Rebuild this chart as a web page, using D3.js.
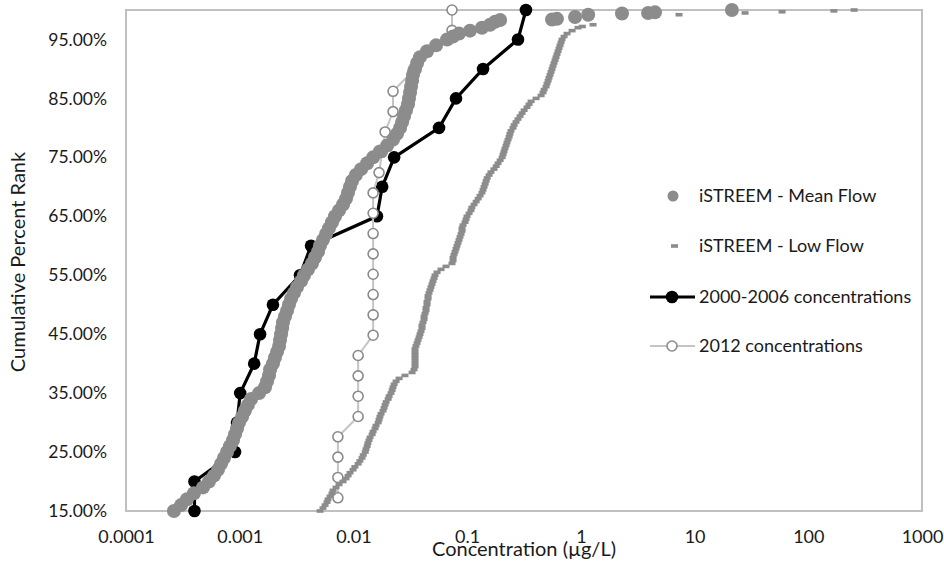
<!DOCTYPE html>
<html>
<head>
<meta charset="utf-8">
<script src="https://cdn.jsdelivr.net/npm/d3@7"></script>
<style>
body{margin:0;background:#fff;}
text{font-family:Lato,"Open Sans",sans-serif;fill:#1a1a1a;}
</style>
</head>
<body>
<div id="chart"></div>
<script>
// x axis ticks (log, ug/L) and y axis ticks (cumulative percent rank)
var xTicks = [0.0001, 0.001, 0.01, 0.1, 1, 10, 100, 1000];
var xTickLabels = ["0.0001", "0.001", "0.01", "0.1", "1", "10", "100", "1000"];
var yTicks = [15, 25, 35, 45, 55, 65, 75, 85, 95];

// iSTREEM - Mean Flow
var meanRank = [15,16,17,18,19,20,21,22,23,24,25,26,27,28,29,30,31,32,33,34,35,36,37,38,39,40,41,42,43,44,
    45,46,47,48,49,50,51,52,53,54,55,56,57,58,59,60,61,62,63,64,65,66,67,68,69,70,71,72,73,74,
    75,76,77,78,79,80,81,82,83,84,85,86,87,88,89,90,91,92,93,94,95,
    95.5,96,96.5,97,97.5,98,98.3,98.4,98.5,98.8,99.2,99.4,99.5,99.6,100];
var meanConc = [0.000264,0.000305,0.000344,0.000396,0.000476,0.000537,0.000594,0.000644,0.000685,0.000727,
    0.000773,0.000821,0.000873,0.000909,0.000947,0.000986,0.00105,0.00111,0.00118,0.00126,
    0.00148,0.00167,0.00174,0.00181,0.00185,0.00196,0.00204,0.00213,0.00222,0.00226,
    0.00231,0.00236,0.0024,0.0025,0.00261,0.00271,0.00283,0.003,0.00319,0.00346,
    0.00368,0.00399,0.00432,0.00459,0.00488,0.00508,0.0054,0.00574,0.0061,0.00648,
    0.00689,0.00747,0.0081,0.00861,0.00896,0.00933,0.00972,0.0105,0.0117,0.0132,
    0.0149,0.0171,0.0198,0.0223,0.0242,0.0257,0.0268,0.0279,0.029,0.0302,
    0.0308,0.0315,0.0321,0.0328,0.0334,0.0348,0.0363,0.0385,0.0444,0.0533,
    0.0666,
    0.0751,0.0849,0.106,0.135,0.159,0.176,0.195,0.558,0.617,0.889,1.16,2.3,3.9,4.49,21.3];

// iSTREEM - Low Flow
var lowRank = [15,15.5,16,16.5,17,17.5,18,18.5,19,19.5,20,20.5,21,21.5,22,22.5,23,23.5,24,24.5,
    25,25.5,26,26.5,27,27.5,28,28.5,29,29.5,30,30.5,31,31.5,32,32.5,33,33.5,34,34.5,
    35,35.5,36,36.5,37,37.5,38,38.5,39,39.5,40,40.5,41,41.5,42,42.5,43,43.5,44,44.5,
    45,45.5,46,46.5,47,47.5,48,48.5,49,49.5,50,50.5,51,51.5,52,52.5,53,53.5,54,54.5,
    55,55.5,56,56.5,57,57.5,58,58.5,59,59.5,60,60.5,61,61.5,62,62.5,63,63.5,64,64.5,
    65,65.5,66,66.5,67,67.5,68,68.5,69,69.5,70,70.5,71,71.5,72,72.5,73,73.5,74,74.5,
    75,75.5,76,76.5,77,77.5,78,78.5,79,79.5,80,80.5,81,81.5,82,82.5,83,83.5,84,84.5,
    85,85.5,86,86.5,87,87.5,88,88.5,89,89.5,90,90.5,91,91.5,92,92.5,93,93.5,94,94.5,
    95,95.5,96,96.5,97,97.2,97.5,99.2,99.5,99.7,99.85,100];
var lowConc = [0.00509,0.0054,0.00563,0.00586,0.00598,0.00623,0.00648,0.00662,0.00703,0.00747,
    0.0081,0.00861,0.00897,0.00934,0.00992,0.0103,0.011,0.0114,0.0119,0.0122,
    0.0127,0.0129,0.0132,0.0134,0.0137,0.014,0.0146,0.0149,0.0155,0.0158,
    0.0165,0.0168,0.0171,0.0175,0.0182,0.0186,0.019,0.0194,0.0202,0.0206,
    0.0214,0.0219,0.0223,0.0228,0.0237,0.0252,0.0284,0.0328,0.0341,0.0348,
    0.0348,0.0348,0.0348,0.0348,0.0348,0.0348,0.0355,0.0363,0.037,0.0378,
    0.0385,0.0393,0.0401,0.0401,0.0409,0.0418,0.0418,0.0426,0.0435,0.0435,
    0.0444,0.0444,0.0453,0.0453,0.0462,0.0472,0.0481,0.0491,0.0501,0.0512,
    0.0522,0.0544,0.0589,0.0652,0.0736,0.0752,0.0752,0.0767,0.0783,0.0799,
    0.0815,0.0832,0.0849,0.0866,0.0884,0.0902,0.0902,0.092,0.0958,0.0978,
    0.0998,0.104,0.108,0.11,0.115,0.12,0.125,0.13,0.135,0.138,
    0.141,0.144,0.147,0.15,0.156,0.162,0.172,0.18,0.187,0.195,
    0.203,0.207,0.211,0.215,0.22,0.224,0.229,0.234,0.238,0.243,
    0.253,0.259,0.269,0.28,0.292,0.304,0.317,0.336,0.35,0.365,
    0.404,0.447,0.465,0.475,0.494,0.504,0.515,0.525,0.536,0.547,
    0.558,0.569,0.581,0.593,0.605,0.617,0.63,0.643,0.656,0.67,
    0.683,0.712,0.756,0.837,0.944,1.03,1.28,7.3,27.8,58.8,168,253];

// 2000-2006 concentrations
var rank0006 = [15,20,25,30,35,40,45,50,55,60,65,70,75,80,85,90,95,100];
var conc0006 = [0.0004,0.0004,0.000909,0.000947,0.00101,0.00134,0.00151,0.00196,0.00339,0.00424,
    0.0161,0.0179,0.0228,0.0566,0.0798,0.138,0.28,0.329];

// 2012 concentrations
var rank2012 = [17.24,20.69,24.14,27.59,31.03,34.48,37.93,41.38,44.83,48.28,51.72,55.17,58.62,62.07,65.52,
    68.97,72.41,75.86,79.31,82.76,86.21,89.66,93.10,96.55,100];
var conc2012 = [0.0073,0.0073,0.0073,0.0073,0.011,0.011,0.011,0.011,0.0149,0.0149,0.0149,0.0149,0.0149,0.0149,0.0149,
    0.0149,0.0168,0.0179,0.019,0.0223,0.0223,0.0334,0.0445,0.0736,0.0736];

var seriesNames = ["iSTREEM - Mean Flow", "iSTREEM - Low Flow", "2000-2006 concentrations", "2012 concentrations"];

var W = 944, H = 562;
var plot = {left: 126, top: 10, right: 922, bottom: 511};
var gray = "#8c8c8c";

function zip(xs, ys){
    return xs.map(function(v, i){ return {c: v, r: ys[i]}; });
}

var svg = d3.select("#chart").append("svg")
    .attr("width", W)
    .attr("height", H);

var x = d3.scaleLog().domain([0.0001, 1000]).range([plot.left, plot.right]);
var y = d3.scaleLinear().domain([15, 100]).range([plot.bottom, plot.top]);

// plot area border
svg.append("rect")
    .attr("x", plot.left).attr("y", plot.top)
    .attr("width", plot.right - plot.left)
    .attr("height", plot.bottom - plot.top)
    .attr("fill", "none")
    .attr("stroke", "#c0c0c0")
    .attr("stroke-width", 2);

var xAxis = svg.append("g")
    .attr("transform", "translate(0," + plot.bottom + ")")
    .call(d3.axisBottom(x).tickValues(xTicks)
        .tickFormat(function(d, i){ return xTickLabels[i]; })
        .tickSize(0).tickPadding(19));
xAxis.select(".domain").remove();
xAxis.selectAll("text").style("font-size", "18px").attr("fill", "#1a1a1a");

var yAxis = svg.append("g")
    .attr("transform", "translate(" + plot.left + ",0)")
    .call(d3.axisLeft(y).tickValues(yTicks)
        .tickFormat(function(d){ return d.toFixed(2) + "%"; })
        .tickSize(0).tickPadding(19));
yAxis.select(".domain").remove();
yAxis.selectAll("text").style("font-size", "17.5px").attr("fill", "#1a1a1a");

svg.append("text")
    .attr("x", 524).attr("y", 556)
    .attr("text-anchor", "middle")
    .style("font-size", "20px")
    .text("Concentration (\u00b5g/L)");

svg.append("text")
    .attr("transform", "translate(25,262) rotate(-90)")
    .attr("text-anchor", "middle")
    .style("font-size", "20px")
    .text("Cumulative Percent Rank");

var line = d3.line()
    .x(function(d){ return x(d.c); })
    .y(function(d){ return y(d.r); });

// 2000-2006 (drawn first, sits under the iSTREEM bands)
var d0006 = zip(conc0006, rank0006);
svg.append("path").datum(d0006)
    .attr("d", line)
    .attr("fill", "none")
    .attr("stroke", "#000")
    .attr("stroke-width", 3.2);
svg.selectAll(".p0006").data(d0006).enter()
    .append("circle")
    .attr("cx", function(d){ return x(d.c); })
    .attr("cy", function(d){ return y(d.r); })
    .attr("r", 6.3)
    .attr("fill", "#000");

// 2012
var d2012 = zip(conc2012, rank2012);
svg.append("path").datum(d2012)
    .attr("d", line)
    .attr("fill", "none")
    .attr("stroke", "#c4c4c4")
    .attr("stroke-width", 2);
svg.selectAll(".p2012").data(d2012).enter()
    .append("circle")
    .attr("cx", function(d){ return x(d.c); })
    .attr("cy", function(d){ return y(d.r); })
    .attr("r", 5)
    .attr("fill", "#fff")
    .attr("stroke", "#8a8a8a")
    .attr("stroke-width", 1.6);

// iSTREEM mean flow: big round markers
svg.selectAll(".mean").data(zip(meanConc, meanRank)).enter()
    .append("circle")
    .attr("cx", function(d){ return x(d.c); })
    .attr("cy", function(d){ return y(d.r); })
    .attr("r", 7)
    .attr("fill", gray);

// iSTREEM low flow: dash markers
svg.selectAll(".low").data(zip(lowConc, lowRank)).enter()
    .append("rect")
    .attr("x", function(d){ return x(d.c) - 3.5; })
    .attr("y", function(d){ return y(d.r) - 1.8; })
    .attr("width", 7)
    .attr("height", 3.6)
    .attr("fill", gray);

// legend
var legY = [196, 246, 297, 346];
var lg = svg.append("g");
lg.append("circle").attr("cx", 673).attr("cy", legY[0]).attr("r", 5.5).attr("fill", gray);
lg.append("rect").attr("x", 671).attr("y", legY[1] - 1.8).attr("width", 7).attr("height", 3.6).attr("fill", gray);
lg.append("line").attr("x1", 650).attr("x2", 695).attr("y1", legY[2]).attr("y2", legY[2])
    .attr("stroke", "#000").attr("stroke-width", 3.2);
lg.append("circle").attr("cx", 672).attr("cy", legY[2]).attr("r", 6.3).attr("fill", "#000");
lg.append("line").attr("x1", 650).attr("x2", 695).attr("y1", legY[3]).attr("y2", legY[3])
    .attr("stroke", "#c4c4c4").attr("stroke-width", 2);
lg.append("circle").attr("cx", 672).attr("cy", legY[3]).attr("r", 5)
    .attr("fill", "#fff").attr("stroke", "#8a8a8a").attr("stroke-width", 1.6);
lg.selectAll(".ltxt").data(seriesNames).enter()
    .append("text")
    .attr("x", 699)
    .attr("y", function(d, i){ return legY[i]; })
    .attr("dy", "0.35em")
    .style("font-size", "18px")
    .text(function(d){ return d; });
</script>
</body>
</html>
